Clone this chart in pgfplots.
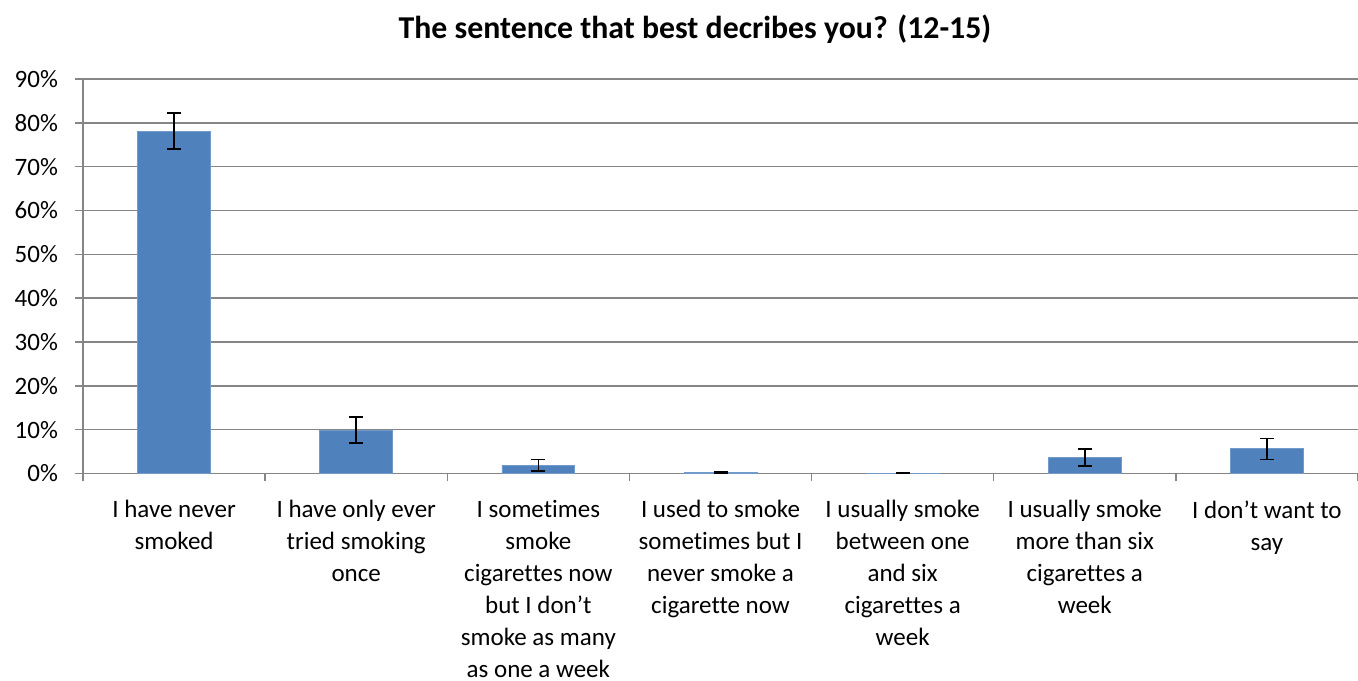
\documentclass[border=0pt]{standalone}
\usepackage{fontspec}
\setmainfont{Carlito}[Ligatures=NoCommon]
\usepackage{pgfplots}
\pgfplotsset{compat=1.18}
\definecolor{barBlue}{HTML}{4F81BD}
\definecolor{gridGray}{HTML}{868686}

\pgfplotstableread{
x  y     err
0  78.1  4.1
1  9.9   3.0
2  1.85  1.35
3  0.15  0.12
4  0.05  0.04
5  3.6   1.95
6  5.6   2.4
}\smoking

\begin{document}
\begin{tikzpicture}
\path[use as bounding box] (-41.5bp,-103.8bp) rectangle (637.5bp,236.7bp);
\begin{axis}[
    at={(0,0)}, anchor=south west,
    scale only axis,
    width=637.5bp, height=197.2bp,
    ymin=0, ymax=90,
    xmin=-0.5, xmax=6.5,
    ytick={0,10,...,90},
    yticklabel={\pgfmathprintnumber{\tick}\%},
    /pgf/number format/assume math mode=true,
    ymajorgrids,
    grid style={gridGray, line width=0.75bp},
    axis x line*=bottom, axis y line*=left,
    axis line style={gridGray, line width=0.75bp, -},
    xtick={0,...,6},
    minor xtick={-0.5,0.5,...,6.5},
    major x tick style={draw=none},
    minor x tick style={gridGray, line width=0.75bp},
    ytick style={gridGray, line width=0.75bp},
    tick align=outside,
    major tick length=4bp, minor tick length=4bp,
    xticklabels={
      {I have never\\smoked},
      {I have only ever\\tried smoking\\once},
      {I sometimes\\smoke\\cigarettes now\\but I don’t\\smoke as many\\as one a week},
      {I used to smoke\\sometimes but I\\never smoke a\\cigarette now},
      {I usually smoke\\between one\\and six\\cigarettes a\\week},
      {I usually smoke\\more than six\\cigarettes a\\week},
      {I don’t want to\\say}},
    xticklabel style={align=center, font=\fontsize{12.5bp}{16bp}\selectfont, yshift=-6bp},
    yticklabel style={font=\fontsize{12.5bp}{15bp}\selectfont, xshift=-5bp},
    title={\textbf{The sentence that best decribes you? (12-15)}},
    title style={font=\fontsize{15.9bp}{19bp}\selectfont, at={(0.48,1)}, yshift=8.5bp},
]
\addplot[ybar, bar width=0.4, fill=barBlue, draw=barBlue!80!white,
    error bars/.cd, y dir=both, y explicit,
    error bar style={black, line width=0.75bp},
    error mark options={black, rotate=90, mark size=3.5bp, line width=0.75bp}]
  table[x=x, y=y, y error=err] {\smoking};
\end{axis}
\end{tikzpicture}
\end{document}
